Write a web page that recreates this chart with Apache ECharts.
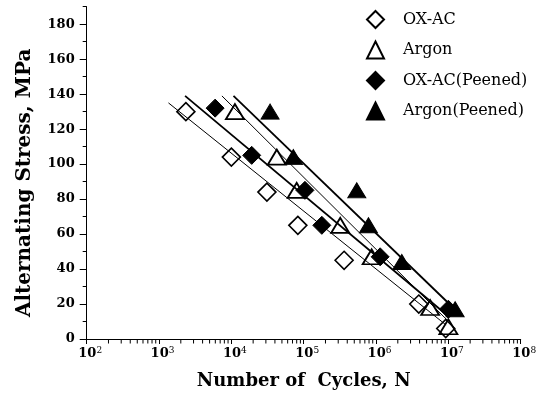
<!DOCTYPE html>
<html>
<head>
<meta charset="utf-8">
<script src="https://cdn.jsdelivr.net/npm/echarts@6/dist/echarts.min.js"></script>
<style>
html, body { margin: 0; padding: 0; background: #fff; }
#main { width: 545px; height: 395px; }
</style>
</head>
<body>
<div id="main"></div>
<script>
// values (cycles N, stress in MPa)
const oxacN = [2350, 10000, 31000, 83000, 362000, 3900000, 9200000];
const oxacS = [130, 104, 84, 65, 45, 20, 6];
const argonN = [11200, 42500, 80000, 320000, 870000, 5600000, 10000000];
const argonS = [130, 104, 85, 65, 47, 18, 7];
const oxacPeenedN = [5960, 19100, 104000, 178000, 1140000, 10000000];
const oxacPeenedS = [132, 105, 85, 65, 47, 17];
const argonPeenedN = [34300, 72000, 542000, 785000, 2270000, 12400000];
const argonPeenedS = [130, 104, 85, 65, 44, 17];

// fitted lines, start and end points
const fitOxacN = [1350, 9300000];
const fitOxacS = [135, 8];
const fitOxacPeenedN = [2290, 10000000];
const fitOxacPeenedS = [139, 13];
const fitArgonN = [7400, 9800000];
const fitArgonS = [139, 10.5];
const fitArgonPeenedN = [10700, 14600000];
const fitArgonPeenedS = [139, 14];

// axis ticks
const yTicks = [0, 20, 40, 60, 80, 100, 120, 140, 160, 180];
const decades = [100, 1000, 10000, 100000, 1000000, 10000000];
const minorSteps = [2, 3, 4, 5, 6, 7, 8, 9];
const xMinorTicks = [];
decades.forEach(d => minorSteps.forEach(m => xMinorTicks.push([d * m, 0])));

const pairs = (xs, ys) => xs.map((x, i) => [x, ys[i]]);

const serif = 'DejaVu Serif';
const legendNames = ['OX-AC', 'Argon', 'OX-AC(Peened)', 'Argon(Peened)'];

let myChart = echarts.init(document.getElementById('main'));

const fitLine = (xs, ys, w) => ({
  type: 'line',
  data: pairs(xs, ys),
  symbol: 'none',
  silent: true,
  lineStyle: { color: '#000', width: w },
  z: 1
});

let options = {
  animation: false,
  backgroundColor: '#fff',
  grid: { left: 86.7, right: 24.3, top: 6.7, bottom: 54.5 },
  legend: {
    orient: 'vertical',
    left: 366,
    top: 10,
    padding: 0,
    itemWidth: 17,
    itemHeight: 17,
    itemGap: 11.5,
    data: legendNames,
    textStyle: { fontFamily: serif, fontSize: 16, lineHeight: 17, color: '#000', padding: [0, 0, 0, 14] }
  },
  xAxis: {
    type: 'log',
    logBase: 10,
    min: 100,
    max: 100000000,
    position: 'bottom',
    name: 'Number of  Cycles, N',
    nameLocation: 'middle',
    nameGap: 33,
    nameTextStyle: { fontFamily: serif, fontWeight: 'bold', fontSize: 18, color: '#000' },
    axisLine: { lineStyle: { color: '#000', width: 1 } },
    axisTick: { length: 5, lineStyle: { color: '#000' } },
    splitLine: { show: false },
    axisLabel: {
      margin: 7,
      padding: [0, 0, 0, 7],
      formatter: v => '{b|10}{e|' + Math.round(Math.log10(v)) + '}',
      rich: {
        b: { fontFamily: serif, fontWeight: 'bold', fontSize: 13, color: '#000', lineHeight: 15 },
        e: { fontFamily: serif, fontSize: 9, color: '#000', verticalAlign: 'top', lineHeight: 9 }
      }
    }
  },
  yAxis: [{
    type: 'value',
    min: 0,
    max: 190,
    interval: 10,
    position: 'left',
    name: 'Alternating Stress, MPa',
    nameLocation: 'middle',
    nameGap: 52,
    nameTextStyle: { fontFamily: serif, fontWeight: 'bold', fontSize: 20, color: '#000', padding: [0, 20, 0, 0] },
    axisLine: { show: true, lineStyle: { color: '#000', width: 1 } },
    axisTick: { show: true, length: 4, lineStyle: { color: '#000' } },
    axisLabel: { show: false },
    splitLine: { show: false }
  }, {
    type: 'value',
    min: 0,
    max: 190,
    interval: 20,
    position: 'left',
    axisLine: { show: false },
    axisTick: { show: true, customValues: yTicks, length: 7, lineStyle: { color: '#000' } },
    axisLabel: {
      customValues: yTicks,
      margin: 12,
      fontFamily: serif, fontWeight: 'bold', fontSize: 13, color: '#000'
    },
    splitLine: { show: false }
  }],
  series: [
    {
      // minor ticks of the log axis, at 2..9 times each decade
      type: 'scatter',
      data: xMinorTicks,
      silent: true,
      clip: false,
      symbol: 'rect',
      symbolSize: [1, 4],
      symbolOffset: [0, 2.5],
      itemStyle: { color: '#000', opacity: 1 },
      z: 1
    },
    fitLine(fitOxacN, fitOxacS, 1),
    fitLine(fitOxacPeenedN, fitOxacPeenedS, 1.8),
    fitLine(fitArgonN, fitArgonS, 1),
    fitLine(fitArgonPeenedN, fitArgonPeenedS, 1.8),
    {
      name: 'OX-AC', type: 'scatter', data: pairs(oxacN, oxacS),
      symbol: 'diamond', symbolSize: 18, z: 3,
      itemStyle: { color: 'rgba(255,255,255,0)', borderColor: '#000', borderWidth: 1.6, opacity: 1 }
    },
    {
      name: 'Argon', type: 'scatter', data: pairs(argonN, argonS),
      symbol: 'triangle', symbolSize: [18, 15], z: 3,
      itemStyle: { color: 'rgba(255,255,255,0)', borderColor: '#000', borderWidth: 1.8, opacity: 1 }
    },
    {
      name: 'OX-AC(Peened)', type: 'scatter', data: pairs(oxacPeenedN, oxacPeenedS),
      symbol: 'diamond', symbolSize: 18, z: 3,
      itemStyle: { color: '#000', borderColor: '#000', borderWidth: 1, opacity: 1 }
    },
    {
      name: 'Argon(Peened)', type: 'scatter', data: pairs(argonPeenedN, argonPeenedS),
      symbol: 'triangle', symbolSize: [18, 15], z: 3,
      itemStyle: { color: '#000', borderColor: '#000', borderWidth: 1, opacity: 1 }
    }
  ]
};

myChart.setOption(options);
</script>
</body>
</html>
